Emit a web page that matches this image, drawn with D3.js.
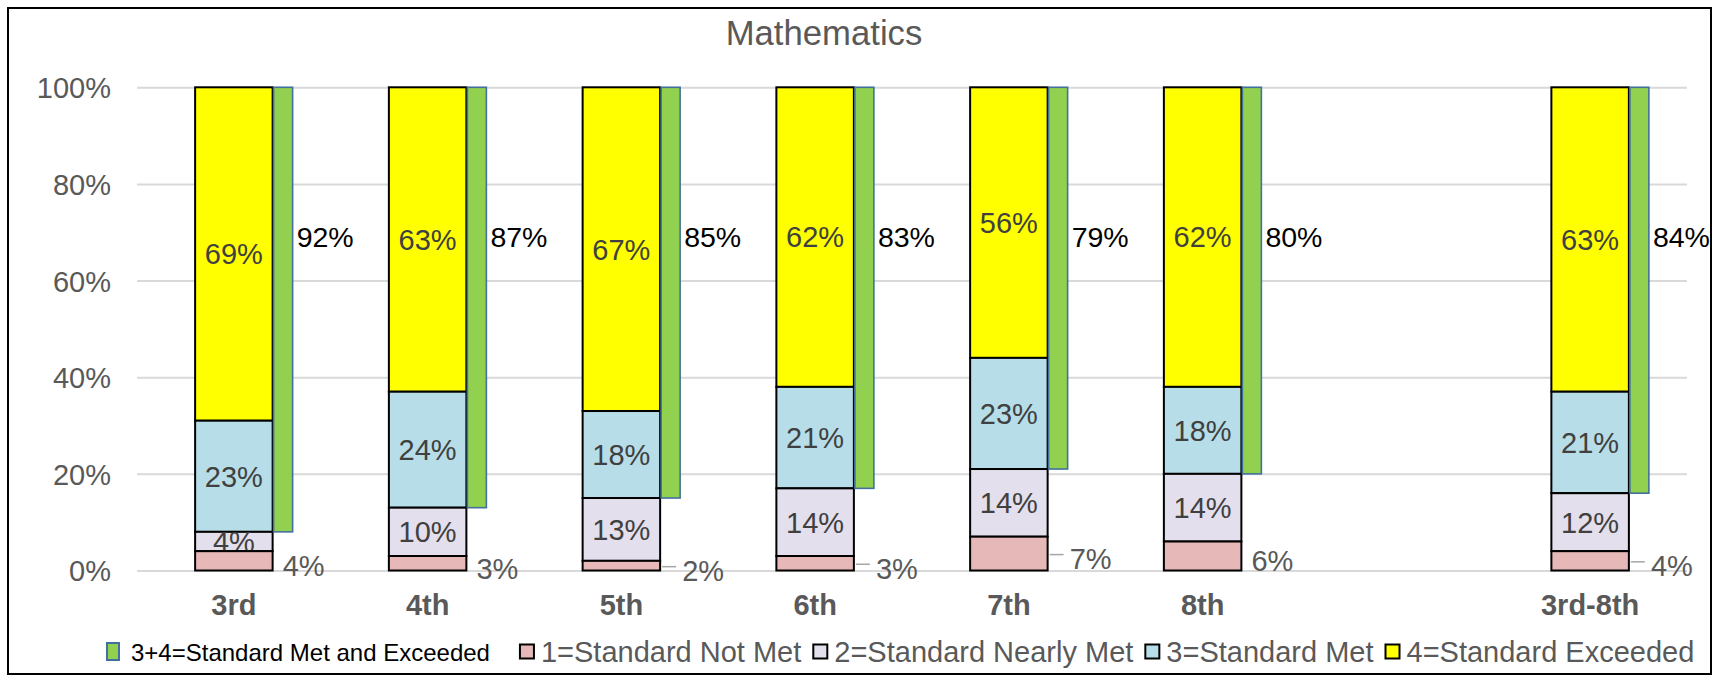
<!DOCTYPE html>
<html>
<head>
<meta charset="utf-8">
<script src="https://cdn.jsdelivr.net/npm/d3@7/dist/d3.min.js"></script>
<style>
  html, body { margin: 0; padding: 0; background: #fff; }
  svg { display: block; font-family: "Liberation Sans", Arial, sans-serif; }
</style>
</head>
<body>
<svg id="chart" width="1714" height="677"></svg>
<script>
// ---------- data ----------
const title = "Mathematics";
const categories = ["3rd", "4th", "5th", "6th", "7th", "8th", "3rd-8th"];
const notMet      = [4, 3, 2, 3, 7, 6, 4];      // 1=Standard Not Met
const nearlyMet   = [4, 10, 13, 14, 14, 14, 12]; // 2=Standard Nearly Met
const met         = [23, 24, 18, 21, 23, 18, 21];// 3=Standard Met
const exceeded    = [69, 63, 67, 62, 56, 62, 63];// 4=Standard Exceeded
const metExceeded = [92, 87, 85, 83, 79, 80, 84];// 3+4=Standard Met and Exceeded
const yTicks = [0, 20, 40, 60, 80, 100];
const legendLabels = ["3+4=Standard Met and Exceeded", "1=Standard Not Met",
  "2=Standard Nearly Met", "3=Standard Met", "4=Standard Exceeded"];

// ---------- layout / style ----------
const W = 1714, H = 677;
const plot = { left: 137, right: 1687, top: 87.3, bottom: 570.5 };
const colors = { notMet: "#E6B9B8", nearly: "#E4DFEC", met: "#B7DEE8", exc: "#FFFF00", green: "#92D050", greenStroke: "#41719C" };
const grey = "#595959", dark = "#404040";
const FS = 29;

const svg = d3.select("#chart");

// outer border
svg.append("rect").attr("x", 8).attr("y", 8).attr("width", 1703).attr("height", 666)
  .attr("fill", "#fff").attr("stroke", "#000").attr("stroke-width", 2);

// x domain has a blank slot before the summary category
const xDomain = [...categories.slice(0, 6), "__gap__", categories[6]];
const x = d3.scaleBand().domain(xDomain).range([plot.left, plot.right]);
const y = d3.scaleLinear().domain([0, 100]).range([plot.bottom, plot.top]);
const barW = x.bandwidth() * 0.4;
const greenW = 19;

// gridlines + y axis
const yAxis = d3.axisLeft(y).tickValues(yTicks).tickFormat(d => d + "%")
  .tickSize(-(plot.right - plot.left)).tickPadding(26);
const gy = svg.append("g").attr("transform", `translate(${plot.left},0)`).call(yAxis);
gy.select(".domain").remove();
gy.selectAll(".tick line").attr("stroke", "#D9D9D9").attr("stroke-width", 2);
gy.selectAll(".tick text").attr("fill", grey).attr("font-size", FS)
  .attr("font-family", "Liberation Sans, Arial, sans-serif").attr("dy", "0.36em");

// title
svg.append("text").attr("x", 824).attr("y", 45).attr("text-anchor", "middle")
  .attr("font-size", 34.7).attr("fill", grey).text(title);

const rows = categories.map((c, i) => ({
  c, i, n1: notMet[i], n2: nearlyMet[i], n3: met[i], n4: exceeded[i], tot: metExceeded[i]
}));
const bx = d => x(d.c) + (x.bandwidth() - barW) / 2;

function seg(g, lo, hi, fill) {
  g.append("rect").attr("x", bx).attr("width", barW)
    .attr("y", d => y(hi(d))).attr("height", d => y(lo(d)) - y(hi(d)))
    .attr("fill", fill).attr("stroke", "#000").attr("stroke-width", 2);
}
function inLabel(g, lo, hi, val) {
  g.append("text").attr("x", d => bx(d) + barW / 2)
    .attr("y", d => (y(lo(d)) + y(hi(d))) / 2 + FS * 0.358)
    .attr("text-anchor", "middle").attr("font-size", FS).attr("fill", dark)
    .text(d => val(d) + "%");
}

const bars = svg.append("g").selectAll("g").data(rows).join("g");
const b1 = d => d.n1, b2 = d => d.n1 + d.n2, b3 = d => d.n1 + d.n2 + d.n3, b4 = d => d.n1 + d.n2 + d.n3 + d.n4;

seg(bars, b3, b4, colors.exc);
seg(bars, b2, b3, colors.met);
seg(bars, b1, b2, colors.nearly);
inLabel(bars, b3, b4, d => d.n4);
inLabel(bars, b2, b3, d => d.n3);
inLabel(bars, b1, b2, d => d.n2);
seg(bars, d => 0, b1, colors.notMet);

// outside labels for "not met" with leader lines for some
const leaderCats = ["5th", "6th", "7th", "3rd-8th"];
bars.filter(d => leaderCats.includes(d.c)).append("line")
  .attr("x1", d => bx(d) + barW + 2).attr("x2", d => bx(d) + barW + 16)
  .attr("y1", d => y(d.n1 / 2) + 1).attr("y2", d => y(d.n1 / 2) + 1)
  .attr("stroke", "#A6A6A6").attr("stroke-width", 1.5);
bars.append("text")
  .attr("x", d => bx(d) + barW + (leaderCats.includes(d.c) ? 22 : 10))
  .attr("y", d => y(d.n1 / 2) + 5 + FS * 0.358)
  .attr("font-size", FS).attr("fill", grey).text(d => d.n1 + "%");

// green floating bar (met + exceeded), from 100 - total up to 100
bars.append("rect").attr("x", d => bx(d) + barW + 1).attr("width", greenW)
  .attr("y", y(100)).attr("height", d => y(100 - d.tot) - y(100))
  .attr("fill", colors.green).attr("stroke", colors.greenStroke).attr("stroke-width", 1.6);
bars.append("text").attr("x", d => bx(d) + barW + 1 + greenW + 4)
  .attr("y", y(69) + 28.5 * 0.358).attr("font-size", 28.5).attr("fill", "#000")
  .text(d => d.tot + "%");

// category labels
svg.append("g").selectAll("text").data(categories).join("text")
  .attr("x", c => x(c) + x.bandwidth() / 2).attr("y", 615)
  .attr("text-anchor", "middle").attr("font-weight", "bold").attr("font-size", FS)
  .attr("fill", grey).text(c => c);

// legend
const legFills = [colors.green, colors.notMet, colors.nearly, colors.met, colors.exc];
const legStrokes = [colors.greenStroke, "#000", "#000", "#000", "#000"];
const legend = svg.append("g");
let lx = 107;
legendLabels.forEach((lab, i) => {
  const first = i === 0;
  const fs = first ? 24 : FS;
  legend.append("rect").attr("x", lx).attr("y", first ? 643 : 644.5)
    .attr("width", first ? 12 : 14).attr("height", first ? 17 : 14)
    .attr("fill", legFills[i]).attr("stroke", legStrokes[i]).attr("stroke-width", 2);
  lx += first ? 24 : 21;
  const t = legend.append("text").attr("x", lx).attr("y", 652 + fs * 0.358)
    .attr("font-size", fs).attr("fill", first ? "#000" : grey).text(lab);
  lx += t.node().getComputedTextLength() + (first ? 30 : 12);
});
</script>
</body>
</html>
